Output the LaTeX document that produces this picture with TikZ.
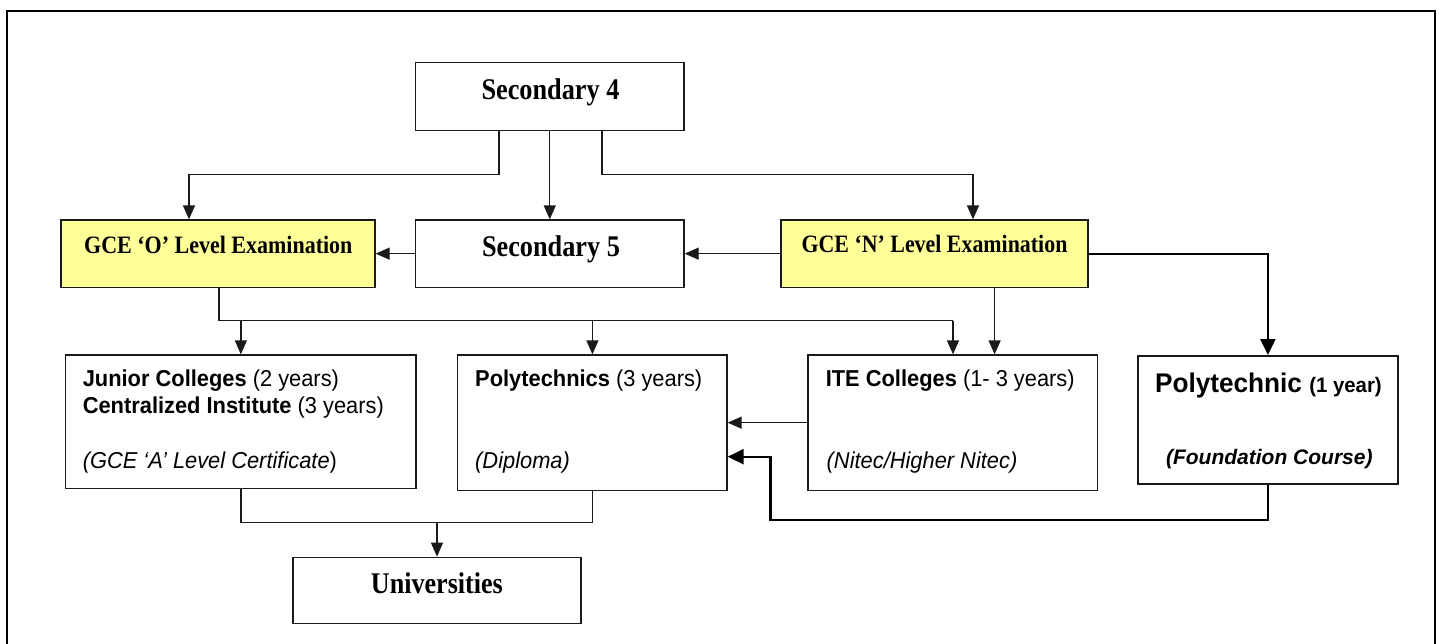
\documentclass[tikz,border=0pt]{standalone}
\usepackage{fontspec}
\setmainfont{Liberation Serif}
\setsansfont{Liberation Sans}
\usepackage{graphicx}
\usetikzlibrary{arrows.meta}
\newcommand{\hsq}[2]{\scalebox{#1}[1]{#2}}
\definecolor{boxyellow}{HTML}{FFFF99}
\definecolor{ink}{HTML}{1A1A1A}
\begin{document}
\begin{tikzpicture}[x=1pt,y=-1pt,
  box/.style={draw=ink, line width=1.3pt, rectangle, inner sep=0pt, fill=white},
  ybox/.style={box, fill=boxyellow},
  tbox/.style={box, line width=2pt},
  conn/.style={draw=ink, line width=1.3pt},
  arr/.style={conn, -{Triangle[length=14pt,width=12pt]}},
  tconn/.style={draw=black, line width=2.2pt},
  tarr/.style={tconn, -{Triangle[length=16pt,width=15pt]}},
  frame/.style={draw=black, line width=2pt},
  sbig/.style={inner sep=0pt, anchor=base, font=\fontsize{30}{36}\selectfont\bfseries},
  smid/.style={inner sep=0pt, anchor=base, font=\fontsize{25}{30}\selectfont\bfseries},
  sans/.style={inner sep=0pt, anchor=base west, font=\fontsize{23}{28}\selectfont\sffamily},
]
\useasboundingbox (0,0) rectangle (1440,643);
\draw[frame] (7,650) -- (7,11) -- (1435,11) -- (1435,650);

% boxes
\node[box, minimum width=268.5pt, minimum height=68pt] (sec4) at (549.75,96.7) {};
\node[ybox, minimum width=314pt, minimum height=67.3pt] (gceo) at (218,253.65) {};
\node[box, minimum width=268.5pt, minimum height=67.3pt] (sec5) at (549.75,253.65) {};
\node[ybox, minimum width=307pt, minimum height=67.3pt] (gcen) at (934.5,253.65) {};
\node[box, minimum width=350.3pt, minimum height=133.7pt] (jc) at (240.85,421.85) {};
\node[box, minimum width=269.2pt, minimum height=135.3pt] (poly) at (592.4,422.65) {};
\node[box, minimum width=289.4pt, minimum height=135.3pt] (ite) at (952.7,422.65) {};
\node[tbox, minimum width=260.2pt, minimum height=128.3pt] (poly1) at (1267.9,420.15) {};
\node[box, minimum width=288pt, minimum height=66pt] (uni) at (437,590.3) {};

% texts
\node[sbig] (t4) at (550.5,99.3) {\hsq{0.876}{Secondary 4}};
\node[sbig] (t5) at (551,256.7) {\hsq{0.876}{Secondary 5}};
\node[smid] (to) at (218.3,253.3) {\hsq{0.88}{GCE ‘O’ Level Examination}};
\node[smid] (tn) at (934.5,252.3) {\hsq{0.876}{GCE ‘N’ Level Examination}};
\node[sbig] (tu) at (436.9,593) {\hsq{0.87}{Universities}};

\node[sans] (tjc1) at (82.6,386) {\hsq{0.95}{\textbf{Junior Colleges} (2 years)}};
\node[sans] (tjc2) at (82.6,413.3) {\hsq{0.95}{\textbf{Centralized Institute} (3 years)}};
\node[sans] (tjc3) at (82.6,468.3) {\hsq{0.95}{\itshape (GCE ‘A’ Level Certificate\upshape)}};
\node[sans] (tp1) at (475,386) {\hsq{0.95}{\textbf{Polytechnics} (3 years)}};
\node[sans] (tp2) at (475,468.3) {\hsq{0.95}{\itshape (Diploma)}};
\node[sans] (ti1) at (825.6,386) {\hsq{0.95}{\textbf{ITE Colleges} (1- 3 years)}};
\node[sans] (ti2) at (826.5,468.3) {\hsq{0.95}{\itshape (Nitec/Higher Nitec)}};
\node[inner sep=0pt, anchor=base, font=\sffamily\bfseries] (tq1) at (1268.4,392.7)
  {\hsq{0.97}{{\fontsize{27}{32}\selectfont Polytechnic }{\fontsize{21}{25}\selectfont (1 year)}}};
\node[inner sep=0pt, anchor=base, font=\fontsize{21}{25}\selectfont\sffamily\bfseries\itshape] (tq2) at (1269.3,464)
  {(Foundation Course)};

% coordinates for bends
\coordinate (s4l) at (499,174.7);
\coordinate (s4r) at (602,174.7);
\coordinate (ol) at (189,174.7);
\coordinate (nr) at (973,174.7);
\coordinate (h1) at (219,320.7);
\coordinate (h2) at (953,320.7);
\coordinate (nb) at (994.6,320.7);
\coordinate (pb) at (770.5,520);
\coordinate (pa) at (770.5,456.7);
\coordinate (uj) at (437,522.3);

% connectors
\draw[arr] (sec4.south -| s4l) -- (s4l) -- (ol) -- (gceo.north -| ol);
\draw[arr] (sec4.south) -- (sec5.north);
\draw[arr] (sec4.south -| s4r) -- (s4r) -- (nr) -- (gcen.north -| nr);
\draw[arr] (sec5.west) -- (gceo.east);
\draw[arr] (gcen.west) -- (sec5.east);
\draw[conn] (gceo.south -| h1) -- (h1) -- (h2);
\draw[arr] (h2) -- (ite.north -| h2);
\draw[arr] (jc.north |- h1) -- (jc.north);
\draw[arr] (poly.north |- h1) -- (poly.north);
\draw[arr] (gcen.south -| nb) -- (ite.north -| nb);
\draw[tarr] (gcen.east) -| (poly1.north);
\draw[arr] (ite.west) -- (poly.east |- ite.west);
\draw[tarr] (poly1.south) |- (pb) -- (pa) -- (poly.east |- pa);
\draw[conn] (jc.south) |- (uj) -| (poly.south);
\draw[arr] (uj) -- (uni.north);
\end{tikzpicture}
\end{document}
